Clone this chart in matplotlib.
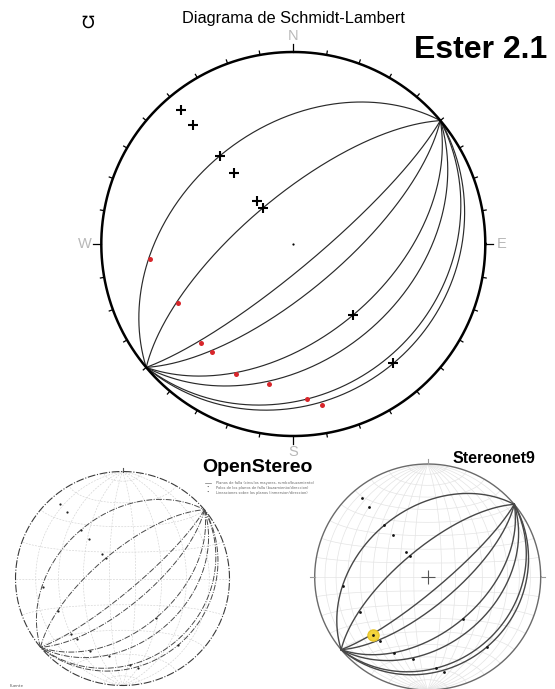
import numpy as np
import matplotlib
matplotlib.use('agg')
import matplotlib.pyplot as plt

W, H = 555, 689

# planes, right-hand-rule strike and dip
strikes = [50, 50, 50, 50, 50, 50, 230, 230]
dips = [80, 70, 50, 40, 24, 20, 40, 70]

# lineations measured on the planes
lin_trend = [264, 243, 223, 217, 204, 190, 175, 170]
lin_plunge = [26, 33, 30, 30, 27, 27, 20, 16]


def project(trend, plunge):
    # lower hemisphere, equal area (Schmidt)
    t = np.radians(trend)
    p = np.radians(plunge)
    r = np.sqrt(2) * np.sin((np.pi / 2 - p) / 2)
    return r * np.sin(t), r * np.cos(t)


def to_trend_plunge(v):
    plunge = np.degrees(np.arcsin(np.clip(v[:, 2], -1, 1)))
    trend = np.degrees(np.arctan2(v[:, 0], v[:, 1]))
    return trend, plunge


def great_circle(strike, dip, n=241):
    s = np.radians(strike)
    d = np.radians(dip)
    dd = s + np.pi / 2
    a = np.radians(np.linspace(0, 180, n))
    sv = np.array([np.sin(s), np.cos(s), 0.0])
    dv = np.array([np.sin(dd) * np.cos(d), np.cos(dd) * np.cos(d), np.sin(d)])
    v = np.outer(np.cos(a), sv) + np.outer(np.sin(a), dv)
    return project(*to_trend_plunge(v))


def small_circle_ns(c, n=241):
    # small circle around the horizontal N-S axis, cone angle c
    c = np.radians(c)
    b = np.radians(np.linspace(0, 180, n))
    v = np.column_stack([np.sin(c) * np.cos(b), np.full_like(b, np.cos(c)),
                         np.sin(c) * np.sin(b)])
    return project(*to_trend_plunge(v))


def add_net(fig, cx, cy, r, pad):
    ax = fig.add_axes([(cx - pad * r) / W, 1 - (cy + pad * r) / H,
                       2 * pad * r / W, 2 * pad * r / H])
    ax.set_xlim(-pad, pad)
    ax.set_ylim(-pad, pad)
    ax.axis('off')
    ax.patch.set_alpha(0)
    return ax


def draw_grid(ax, dips_m, cones, **kw):
    for d in dips_m:
        ax.plot(*great_circle(0, d), **kw)
        ax.plot(*great_circle(180, d), **kw)
    for c in cones:
        ax.plot(*small_circle_ns(c), **kw)


pole_trend = [s - 90 for s in strikes]
pole_plunge = [90 - d for d in dips]
theta = np.linspace(0, 2 * np.pi, 400)

fig = plt.figure(figsize=(W / 100, H / 100), dpi=100)

# main Schmidt-Lambert net
ax = add_net(fig, 293.3, 244, 192, 1.2)
ax.plot(np.cos(theta), np.sin(theta), color='black', lw=1.8, zorder=3)
for az in range(0, 360, 10):
    a = np.radians(az)
    r2 = 1.042 if az % 90 == 0 else 1.02
    ax.plot([np.sin(a), r2 * np.sin(a)], [np.cos(a), r2 * np.cos(a)],
            color='black', lw=0.9)
for lab, az in zip(['N', 'E', 'S', 'W'], [0, 90, 180, 270]):
    a = np.radians(az)
    ax.text(1.085 * np.sin(a), 1.085 * np.cos(a), lab, color='#b8b8b8',
            fontsize=10.5, ha='center', va='center', family='Liberation Sans')
for s, d in zip(strikes, dips):
    ax.plot(*great_circle(s, d), color='#2a2a2a', lw=0.85)
px, py = project(np.array(pole_trend), np.array(pole_plunge))
ax.plot(px, py, '+', color='black', ms=7, mew=1.5, zorder=5)
lx, ly = project(np.array(lin_trend), np.array(lin_plunge))
ax.plot(lx, ly, 'o', color='#d8262b', ms=3.6, mec='none', zorder=5)
ax.plot([0], [0], 'o', color='black', ms=1.6, mec='none')

fig.text(293 / W, 1 - 18 / H, 'Diagrama de Schmidt-Lambert', fontsize=11.8,
         ha='center', va='center', family='Liberation Sans')
fig.text(88 / W, 1 - 23 / H, '\u2127', fontsize=12, ha='center', va='center')
fig.text(414 / W, 1 - 58 / H, 'Ester 2.1', fontsize=23, fontweight='bold',
         ha='left', va='baseline', family='Liberation Sans')

# OpenStereo version
ax2 = add_net(fig, 122.5, 578.5, 107, 1.06)
draw_grid(ax2, [20, 40, 60, 80], range(10, 180, 20),
          color='#d2d2d2', lw=0.45, ls=(0, (3, 2)))
ax2.plot(np.cos(theta), np.sin(theta), color='#3a3a3a', lw=0.8,
         ls=(0, (7, 1.5, 1, 1.5)))
ax2.plot([0, 0], [1.0, 1.03], color='#555555', lw=0.8)
for s, d in zip(strikes, dips):
    ax2.plot(*great_circle(s, d), color='#4a4a4a', lw=0.7,
             ls=(0, (6, 1.5, 1, 1.5)))
ax2.plot(px, py, 'o', color='#222222', ms=1.6, mec='none')
ax2.plot(lx, ly, 'o', color='#222222', ms=1.6, mec='none')

fig.text(257.5 / W, 1 - 471.5 / H, 'OpenStereo', fontsize=14,
         fontweight='bold', ha='center', va='baseline',
         family='Liberation Sans')
legend_rows = ['Planos de falla (circulos mayores, rumbo/buzamiento)',
               'Polos de los planos de falla (buzamiento/direccion)',
               'Lineaciones sobre los planos (inmersion/direccion)']
for i, row in enumerate(legend_rows):
    y = 1 - (483 + 5 * i) / H
    if i == 0:
        fig.lines.append(plt.Line2D([205 / W, 211 / W], [y, y],
                                    transform=fig.transFigure,
                                    color='#777777', lw=0.5))
    else:
        fig.text(208 / W, y, '\u2022', fontsize=3, ha='center',
                 va='center', color='#333333')
    fig.text(216 / W, y, row, fontsize=2.6, ha='left', va='center',
             color='#666666')
fig.text(10 / W, 1 - 686 / H, 'Fuente', fontsize=3, ha='left',
         va='center', color='#555555')

# Stereonet9 version
ax3 = add_net(fig, 427.7, 577, 113, 1.06)
draw_grid(ax3, range(10, 90, 10), range(10, 180, 10), color='#e4e4e4', lw=0.5)
ax3.plot(np.cos(theta), np.sin(theta), color='#6a6a6a', lw=1.0)
for az in [0, 90, 180, 270]:
    a = np.radians(az)
    ax3.plot([np.sin(a), 1.04 * np.sin(a)], [np.cos(a), 1.04 * np.cos(a)],
             color='#9a9a9a', lw=0.8)
ax3.plot([0], [0], '+', color='#555555', ms=10, mew=0.8)
for s, d in zip(strikes, dips):
    ax3.plot(*great_circle(s, d), color='#474747', lw=1.0)
ax3.plot(lx[2], ly[2], 'o', color='#f3d43c', ms=8, mec='#e8c52a', zorder=4)
ax3.plot(px, py, 'o', color='#111111', ms=2, mec='none', zorder=5)
ax3.plot(lx, ly, 'o', color='#111111', ms=2, mec='none', zorder=5)

fig.text(494 / W, 1 - 463 / H, 'Stereonet9', fontsize=11.5,
         fontweight='bold', ha='center', va='baseline',
         family='Liberation Sans')

fig.savefig('out.png', dpi=100)
